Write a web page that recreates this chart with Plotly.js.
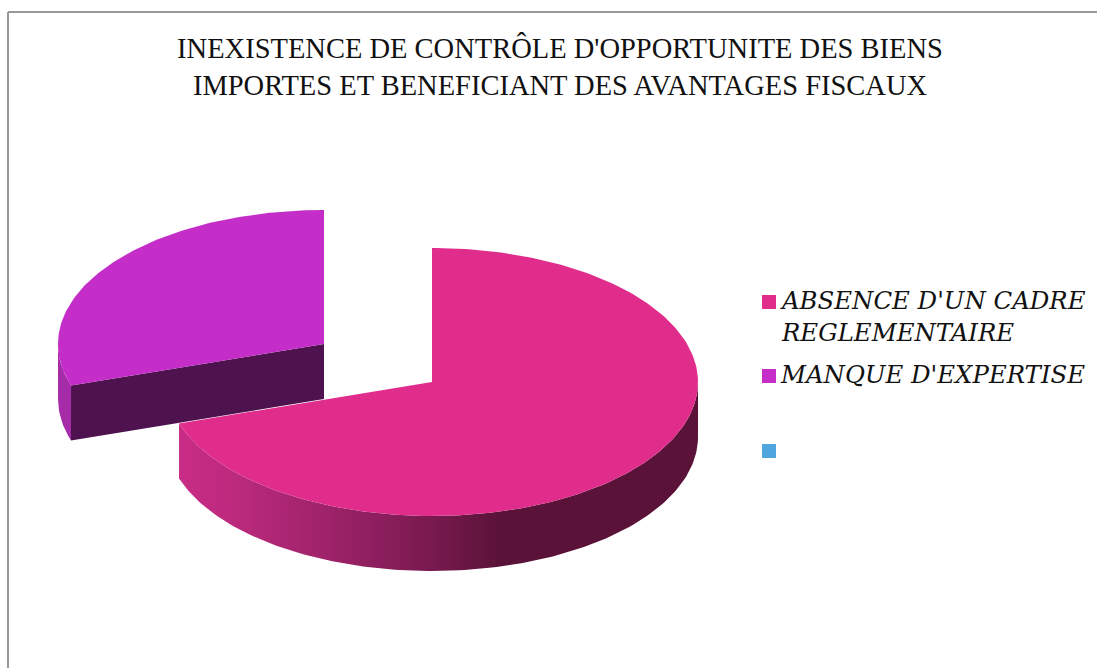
<!DOCTYPE html>
<html>
<head>
<meta charset="utf-8">
<script src="https://cdn.plot.ly/plotly-3.0.1.min.js"></script>
<style>html,body{margin:0;padding:0;background:#fff}#chart{width:1097px;height:668px}</style>
</head>
<body>
<div id="chart"></div>
<script>
// Data
const titleLines = ["INEXISTENCE DE CONTRÔLE D'OPPORTUNITE DES BIENS", "IMPORTES ET BENEFICIANT DES AVANTAGES FISCAUX"];
const categories = ["ABSENCE D'UN CADRE<br>REGLEMENTAIRE", "MANQUE D'EXPERTISE", ""];
const shares = [70, 30, 0];
const colors = ["#e02d8c", "#c52dc9", "#4fa6de"];

// 3D pie projection (pixel-based axes)
const RX = 266, RY = 134, DEPTH = 55;
const CENTER = [432, 382];
const EXPLODE = [[0, 0], [-108, -38]];
const total = shares.reduce((a, b) => a + b, 0);
const startDeg = [0, shares[0] / total * 360];
const endDeg = [shares[0] / total * 360, 360];

function arc(c, a0, a1, dy) {
  const xs = [], ys = [], n = Math.max(2, Math.ceil(Math.abs(a1 - a0)));
  for (let i = 0; i <= n; i++) {
    const t = (a0 + (a1 - a0) * i / n) * Math.PI / 180;
    xs.push(c[0] + RX * Math.sin(t));
    ys.push(c[1] - RY * Math.cos(t) + dy);
  }
  return [xs, ys];
}
function poly(x, y, fill, extra) {
  return Object.assign({type: 'scatter', mode: 'lines', x, y, fill: 'toself', fillcolor: fill,
    line: {width: 0, color: fill}, hoverinfo: 'skip', showlegend: false}, extra || {});
}
function wall(c, a0, a1) {
  const top = arc(c, a0, a1, 0), bot = arc(c, a1, a0, DEPTH);
  return [top[0].concat(bot[0], [top[0][0]]), top[1].concat(bot[1], [top[1][0]])];
}
function sector(c, a0, a1) {
  const e = arc(c, a0, a1, 0);
  return [[c[0]].concat(e[0], [c[0]]), [c[1]].concat(e[1], [c[1]])];
}

const c0 = [CENTER[0] + EXPLODE[0][0], CENTER[1] + EXPLODE[0][1]];
const c1 = [CENTER[0] + EXPLODE[1][0], CENTER[1] + EXPLODE[1][1]];
const traces = [];

// Purple slice: outer wall, cut face, top
const pw = wall(c1, startDeg[1], 270);
traces.push(poly(pw[0], pw[1], '#a62ba8'));
const corner = arc(c1, startDeg[1], startDeg[1], 0);
traces.push(poly([c1[0], corner[0][0], corner[0][0], c1[0], c1[0]],
                 [c1[1], corner[1][0], corner[1][0] + DEPTH, c1[1] + DEPTH, c1[1]], '#4e134f'));
const ps = sector(c1, startDeg[1], endDeg[1]);
traces.push(poly(ps[0], ps[1], colors[1]));

// Pink slice: outer wall with gradient, top
const kw = wall(c0, 90, endDeg[0]);
traces.push(poly(kw[0], kw[1], '#5a1238', {
  fillcolor: undefined,
  fillgradient: {type: 'horizontal', start: 178, stop: 698,
    colorscale: [[0, '#c92c86'], [0.1, '#bd2a7e'], [0.3, '#9c2268'], [0.48, '#7a1a50'], [0.62, '#5a1238'], [1, '#5a1238']]}
}));
const ks = sector(c0, startDeg[0], endDeg[0]);
traces.push(poly(ks[0], ks[1], colors[0]));

// Legend swatches
const legendX = 769, legendTextX = 779, legendY = [302, 376, 451];
traces.push({type: 'scatter', mode: 'markers', x: categories.map(() => legendX), y: legendY,
  marker: {symbol: 'square', size: 14, color: colors, line: {width: 0}},
  text: categories, hoverinfo: 'text', showlegend: false});

const annotations = categories.filter(c => c).map((c, i) => ({
  xref: 'x', yref: 'y', x: legendTextX, y: legendY[i] - 17, xanchor: 'left', yanchor: 'top', align: 'left',
  text: '<i>' + c + '</i>', showarrow: false, borderpad: 0,
  font: {family: '"DejaVu Serif", serif', size: 24.4, color: '#111'}
}));

const layout = {
  width: 1097, height: 668,
  margin: {l: 0, r: 0, t: 0, b: 0},
  paper_bgcolor: '#fff', plot_bgcolor: '#fff',
  showlegend: false,
  title: {text: titleLines.join('<br>'), x: 560 / 1097, xanchor: 'center', y: 1 - 58 / 668, yanchor: 'top',
    font: {family: '"Liberation Serif", serif', size: 28.5, color: '#111'}},
  xaxis: {range: [0, 1097], visible: false, fixedrange: true},
  yaxis: {range: [668, 0], visible: false, fixedrange: true},
  annotations,
  shapes: [
    {type: 'line', xref: 'x', yref: 'y', x0: 8, x1: 1097, y0: 12, y1: 12, line: {color: '#999999', width: 2}},
    {type: 'line', xref: 'x', yref: 'y', x0: 8, x1: 8, y0: 12, y1: 668, line: {color: '#999999', width: 2}}
  ]
};
Plotly.newPlot('chart', traces, layout, {displayModeBar: false, responsive: false});
</script>
</body>
</html>
